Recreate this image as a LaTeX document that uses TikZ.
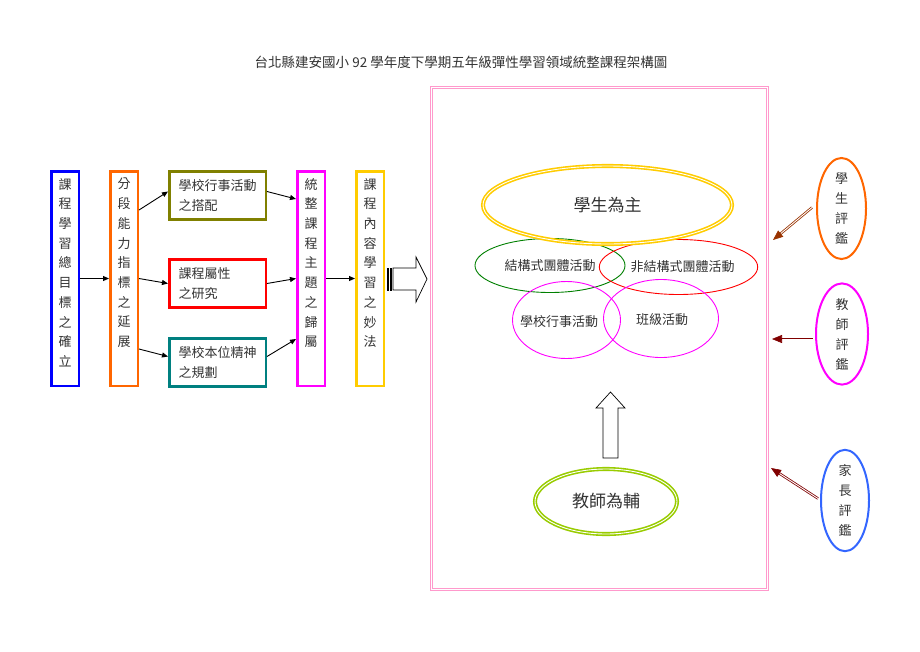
\documentclass[tikz,border=0pt]{standalone}
\usepackage{fontspec}
\setmainfont{Noto Sans CJK TC}
\usetikzlibrary{shapes.geometric,arrows.meta,calc}
\definecolor{cblue}{HTML}{0000FF}
\definecolor{corange}{HTML}{FF6600}
\definecolor{colive}{HTML}{808000}
\definecolor{cred}{HTML}{FF0000}
\definecolor{cteal}{HTML}{008080}
\definecolor{cmag}{HTML}{FF00FF}
\definecolor{cgold}{HTML}{FFCC00}
\definecolor{cpink}{HTML}{FF99CC}
\definecolor{cgreen}{HTML}{008000}
\definecolor{clime}{HTML}{99CC00}
\definecolor{cblue2}{HTML}{3366FF}
\definecolor{cbrown}{HTML}{993300}
\definecolor{cmaroon}{HTML}{800000}
\definecolor{ctext}{HTML}{333333}
\begin{document}
\begin{tikzpicture}[x=1pt,y=-1pt,
  txt/.style={text=ctext,inner sep=0pt},
  vbox/.style={draw=#1,line width=2.5pt,minimum width=27.5pt,minimum height=214.5pt,inner sep=0pt},
  hbox/.style={draw=#1,line width=2.5pt,minimum width=96.5pt,minimum height=48pt,inner sep=0pt,
    text=ctext,align=left,text width=78pt,font=\fontsize{13pt}{20pt}\selectfont},
  vtext/.style={txt,align=center,anchor=north,font=\fontsize{13pt}{19.7pt}\selectfont},
  flow/.style={line width=0.9pt,-{Triangle[length=6pt,width=5pt]}},
  oval/.style={ellipse,draw=#1,line width=0.9pt,inner sep=0pt,text=ctext,font=\fontsize{13pt}{16pt}\selectfont},
  bigoval/.style={ellipse,draw=#1,double=white,line width=1.6pt,double distance=0.9pt,inner sep=0pt,text=ctext,font=\fontsize{17pt}{20pt}\selectfont},
  evaloval/.style={ellipse,draw=#1,line width=2pt,inner sep=0pt,text=ctext,align=center,font=\fontsize{13pt}{20pt}\selectfont},
  evalshaft/.style={draw=#1,double=white,line width=0.8pt,double distance=0.9pt,shorten >=6pt},
  evaltip/.style={draw=#1,fill=#1,line width=0.6pt,-{Triangle[length=10pt,width=8pt]}}
]
\useasboundingbox (0,0) rectangle (920,651);
\fill[white] (0,0) rectangle (920,651);

% title
\node[txt,font=\fontsize{13.5pt}{16pt}\selectfont] (title) at (461,62) {台北縣建安國小 92 學年度下學期五年級彈性學習領域統整課程架構圖};

% left flow boxes
\node[vbox=cblue] (b1) at (65,278.5) {};
\node[vbox=corange] (b2) at (124,278.5) {};
\node[hbox=colive] (b3) at (217.5,195.5) {學校行事活動\\之搭配};
\node[hbox=cred] (b4) at (217.5,283.5) {課程屬性\\之研究};
\node[hbox=cteal] (b5) at (217.5,362.5) {學校本位精神\\之規劃};
\node[vbox=cmag] (b6) at (311,278.5) {};
\node[vbox=cgold] (b7) at (370,278.5) {};

\node[vtext] (t1) at (65,178) {課\\程\\學\\習\\總\\目\\標\\之\\確\\立};
\node[vtext] (t2) at (124,178) {分\\段\\能\\力\\指\\標\\之\\延\\展};
\node[vtext] (t6) at (311,178) {統\\整\\課\\程\\主\\題\\之\\歸\\屬};
\node[vtext] (t7) at (370,178) {課\\程\\內\\容\\學\\習\\之\\妙\\法};

% flow arrows
\draw[flow] (b1.east) -- (b2.west);
\draw[flow] ($(b2.north east)+(0,40)$) -- ($(b3.west)+(0,-4)$);
\draw[flow] (b2.east) -- (b4.west);
\draw[flow] ($(b2.south east)+(0,-38)$) -- ($(b5.west)+(0,-6)$);
\draw[flow] ($(b3.east)+(0,-4)$) -- ($(b6.north west)+(0,29)$);
\draw[flow] (b4.east) -- (b6.west);
\draw[flow] ($(b5.east)+(0,-6)$) -- ($(b6.south west)+(0,-48)$);
\draw[flow] (b6.east) -- (b7.west);

% striped block arrow
\draw[line width=0.7pt,fill=white] (393,268) -- (416,268) -- (416,257) -- (427,279) -- (416,302) -- (416,290) -- (393,290) -- cycle;
\draw[line width=0.7pt] (387,268) rectangle (388.6,290);
\draw[line width=0.7pt] (390.2,268) rectangle (391.6,290);

% frame
\node[draw=cpink,double=white,line width=0.9pt,double distance=1.6pt,minimum width=336pt,minimum height=502pt,inner sep=0pt] (fr) at (599.5,338.5) {};

% ellipses inside
\node[oval=cgreen,minimum width=150pt,minimum height=54pt] (e_a) at (550,265.5) {結構式團體活動};
\node[oval=cred,minimum width=142pt,minimum height=55pt] (e_b) at (678.5,267) {\hspace*{8pt}非結構式團體活動};
\node[oval=cmag,minimum width=108pt,minimum height=77pt] (e_c) at (566.5,320) {};
\node[oval=cmag,minimum width=115pt,minimum height=78pt] (e_d) at (661,318.5) {};
\node[txt,font=\fontsize{13pt}{16pt}\selectfont] (l_c) at (559,322) {學校行事活動};
\node[txt,font=\fontsize{13pt}{16pt}\selectfont] (l_d) at (662,320) {班級活動};
\node[bigoval=cgold,minimum width=249pt,minimum height=78pt] (e_top) at (607.5,205) {學生為主};
\node[bigoval=clime,minimum width=142pt,minimum height=65pt] (e_bot) at (606,501.5) {教師為輔};

% up block arrow
\draw[line width=0.7pt,fill=white] (603,458) -- (603,408) -- (596,408) -- (610.5,392) -- (625,408) -- (618,408) -- (618,458) -- cycle;

% evaluation ovals
\node[evaloval=corange,minimum width=49pt,minimum height=87pt] (v1) at (841.5,208.5) {學\\生\\評\\鑑};
\node[evaloval=cmag,minimum width=52pt,minimum height=92pt] (v2) at (842,334) {教\\師\\評\\鑑};
\node[evaloval=cblue2,minimum width=48pt,minimum height=99pt] (v3) at (845,500.5) {家\\長\\評\\鑑};

\coordinate (p1) at (773,240);
\coordinate (p2) at (772,339);
\coordinate (p3) at (771,468);
\coordinate (s1) at ($(v1.west)+(-4,-1)$);
\coordinate (s2) at ($(v2.west)+(-2,5)$);
\coordinate (s3) at ($(v3.west)+(-2,-2)$);
\draw[evalshaft=cbrown] (s1) -- (p1);
\draw[evaltip=cbrown] ($(p1)!6pt!(s1)$) -- (p1);
\draw[evalshaft=cmaroon] (s2) -- (p2);
\draw[evaltip=cmaroon] ($(p2)!6pt!(s2)$) -- (p2);
\draw[evalshaft=cmaroon] (s3) -- (p3);
\draw[evaltip=cmaroon] ($(p3)!6pt!(s3)$) -- (p3);
\end{tikzpicture}
\end{document}
